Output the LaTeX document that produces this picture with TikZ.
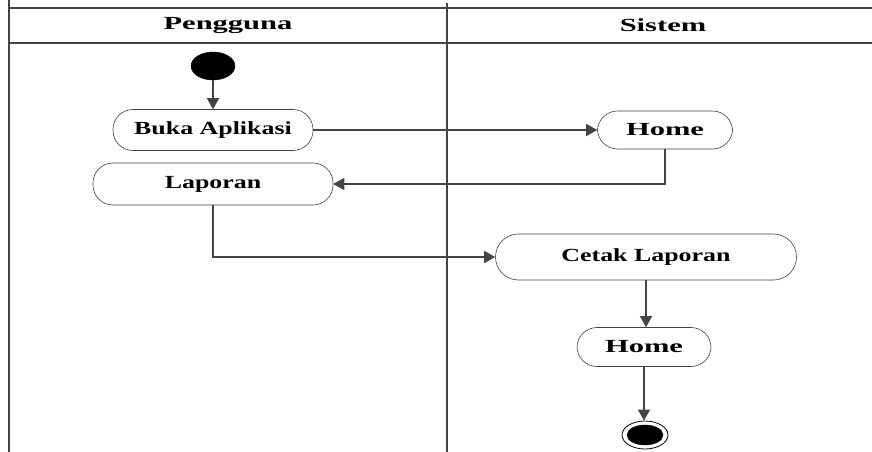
\documentclass[tikz,border=0pt]{standalone}
\usepackage{fontspec}
\setmainfont{Liberation Serif}[FakeStretch=1.4]
\newfontfamily\widefont{Liberation Serif}[FakeStretch=1.65]
\usepackage{tikz}
\usetikzlibrary{arrows.meta, shapes.geometric}
\definecolor{linegray}{HTML}{444444}
\tikzstyle{lane}=[draw=linegray, line width=1.5pt]
\tikzstyle{action}=[draw=black!75, line width=0.6pt, rectangle, rounded corners=20pt, inner sep=0pt, font=\bfseries\fontsize{18.5}{22}\selectfont]
\tikzstyle{header}=[font=\widefont\bfseries\fontsize{18.5}{22}\selectfont]
\tikzstyle{initial}=[ellipse, fill=black, draw=black, minimum width=44pt, minimum height=28pt, inner sep=0pt]
\tikzstyle{flow}=[draw=linegray, line width=1.5pt, -{Triangle[length=11pt, width=12pt]}]

\begin{document}
\begin{tikzpicture}[x=1pt, y=-1pt]
    \useasboundingbox (0,0) rectangle (872,452);
    % swimlanes
    \draw[lane] (9,0) -- (9,452);
    \draw[lane] (447,3) -- (447,452);
    \draw[lane] (9,8) -- (872,8);
    \draw[lane] (9,43) -- (872,43);
    \node[header] (lanePengguna) at (228,25) {Pengguna};
    \node[header] (laneSistem) at (663,25) {Sistem};
    % activities
    \node[initial] (start) at (213,66) {};
    \node[action, minimum width=200pt, minimum height=41pt] (buka) at (213,130) {Buka Aplikasi};
    \node[action, minimum width=135pt, minimum height=38pt, font=\widefont\bfseries\fontsize{18.5}{22}\selectfont] (home1) at (665,130) {Home};
    \node[action, minimum width=240pt, minimum height=42pt] (laporan) at (213,184) {Laporan};
    \node[action, minimum width=301pt, minimum height=46pt, rounded corners=23pt] (cetak) at (646,257) {Cetak Laporan};
    \node[action, minimum width=134pt, minimum height=39pt, font=\widefont\bfseries\fontsize{18.5}{22}\selectfont] (home2) at (644,347) {Home};
    \node[ellipse, draw=black, line width=0.8pt, minimum width=46pt, minimum height=28pt] (finish) at (645,435) {};
    \node[initial, minimum width=36pt, minimum height=20pt] (finishDot) at (645,435) {};
    % flows
    \draw[flow] (start) -- (buka);
    \draw[flow] (buka) -- (home1);
    \draw[flow] (home1.south) |- (laporan.east);
    \draw[flow] (laporan.south) |- (cetak.west);
    \draw[flow] (cetak.south) -- (home2.north -| cetak.south);
    \draw[flow] (home2.south) -- (finish.north -| home2.south);
\end{tikzpicture}
\end{document}
